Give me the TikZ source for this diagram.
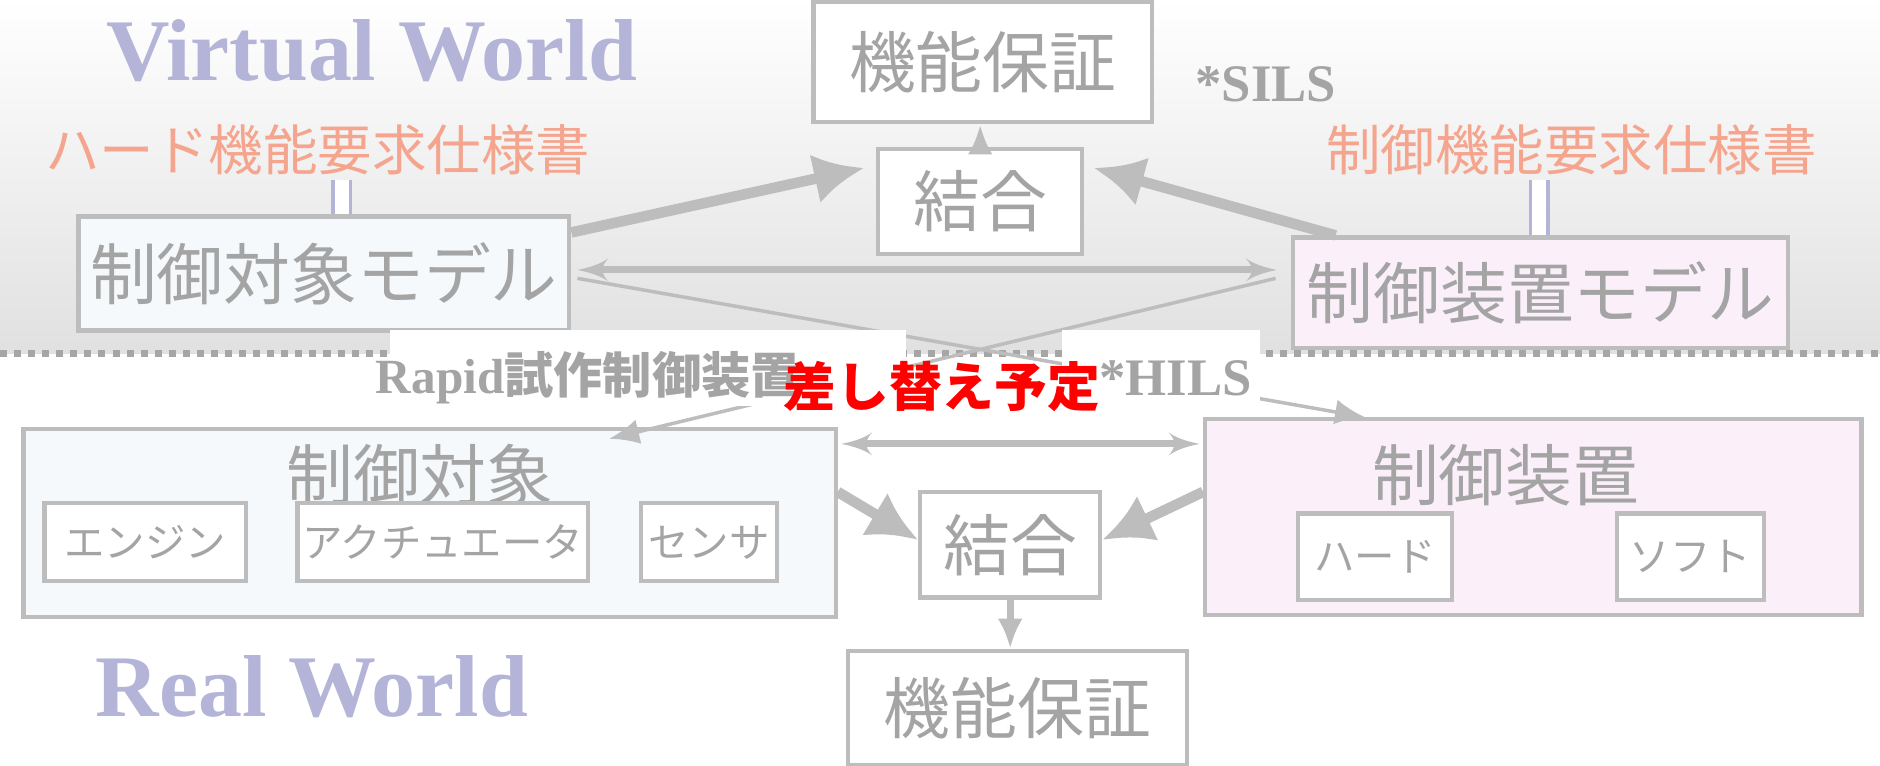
\documentclass[tikz,border=0pt]{standalone}
\usepackage{fontspec}
\setmainfont{Liberation Serif}
\newfontfamily\jp{Noto Sans CJK JP}
\usetikzlibrary{arrows, positioning, arrows.meta}
\definecolor{txtgray}{HTML}{A4A4A4}
\definecolor{linegray}{HTML}{BDBDBD}
\definecolor{lavender}{HTML}{B4B4D8}
\definecolor{salmon}{HTML}{F5A58E}
\definecolor{bluefill}{HTML}{F5F9FB}
\definecolor{pinkfill}{HTML}{FBF0FA}
\tikzset{
	box/.style={rectangle, draw=linegray, line width=1.2pt, fill=white, text=txtgray, font=\jp\fontsize{19}{19}\selectfont, inner sep=0pt},
	subbox/.style={box, font=\jp\fontsize{11.5}{11.5}\selectfont},
	thick arrow/.style={draw=linegray, line width=3pt, -{Latex[length=5mm,width=5mm]}},
	thin arrow/.style={draw=linegray, line width=1pt, -{Latex[length=3mm,width=2.5mm]}}
}
\begin{document}
\begin{tikzpicture}[x=0.012cm, y=-0.012cm, >=latex']
		\useasboundingbox (0,0) rectangle (1567,638);
		\shade[top color=white, bottom color=black!12] (0,0) rectangle (1567,295);
		\draw[black!35, line width=2pt, dotted] (0,295) -- (1567,295);
	
		% virtual world
		\node[font=\bfseries\fontsize{25}{25}\selectfont, text=lavender] (virtual) at (310,42) {Virtual World};
		\node[box, minimum width=282*0.012cm, minimum height=100*0.012cm] (checkV) at (819,52) {機能保証};
		\node[text=txtgray, font=\bfseries\fontsize{15}{15}\selectfont] (sils) at (1055,70) {*SILS};
		\node[text=salmon, font=\jp\fontsize{15.5}{15.5}\selectfont] (hardspec) at (265,125) {ハード機能要求仕様書};
		\node[text=salmon, font=\jp\fontsize{15.5}{15.5}\selectfont] (ctrlspec) at (1310,125) {制御機能要求仕様書};
		\node[box, minimum width=170*0.012cm, minimum height=87*0.012cm] (joinV) at (817,168) {結合};
		\node[box, fill=bluefill, minimum width=409*0.012cm, minimum height=95*0.012cm] (plantM) at (270,228) {制御対象モデル};
		\node[box, fill=pinkfill, minimum width=412*0.012cm, minimum height=92*0.012cm] (ctrlM) at (1284,244) {制御装置モデル};
	
		\draw[lavender, line width=1pt, double distance=4pt] (285,150) -- (plantM.north -| 285,0);
		\draw[lavender, line width=1pt, double distance=4pt] (1283,150) -- (ctrlM.north -| 1283,0);
	
		\draw[thick arrow] ([yshift=-15*0.012cm]plantM.north east) -- ([xshift=-10*0.012cm, yshift=28*0.012cm]joinV.west);
		\draw[thick arrow] ([xshift=37*0.012cm]ctrlM.north west) -- ([xshift=8*0.012cm, yshift=28*0.012cm]joinV.east);
		\draw[thin arrow, line width=2pt] (joinV.north) -- (joinV.north |- checkV.south);
		\draw[thin arrow, line width=2pt, <->] ([xshift=5*0.012cm, yshift=3*0.012cm]plantM.east) -- ([xshift=-12*0.012cm, yshift=19*0.012cm]ctrlM.west);
	
		% real world
		\node[box, fill=bluefill, minimum width=677*0.012cm, minimum height=157*0.012cm] (plant) at (358,436) {};
		\node[text=txtgray, font=\jp\fontsize{19}{19}\selectfont] (plantT) at (350,396) {制御対象};
		\node[subbox, minimum width=168*0.012cm, minimum height=65*0.012cm] (engine) at (121,452) {エンジン};
		\node[subbox, minimum width=242*0.012cm, minimum height=65*0.012cm] (actuator) at (369,452) {アクチュエータ};
		\node[subbox, minimum width=113*0.012cm, minimum height=65*0.012cm] (sensor) at (591,452) {センサ};
		\node[box, fill=pinkfill, minimum width=547*0.012cm, minimum height=163*0.012cm] (ctrl) at (1278,431) {};
		\node[text=txtgray, font=\jp\fontsize{19}{19}\selectfont] (ctrlT) at (1255,396) {制御装置};
		\node[subbox, minimum width=128*0.012cm, minimum height=72*0.012cm] (hard) at (1146,464) {ハード};
		\node[subbox, minimum width=122*0.012cm, minimum height=72*0.012cm] (soft) at (1409,464) {ソフト};
		\node[box, minimum width=150*0.012cm, minimum height=88*0.012cm] (joinR) at (842,454) {結合};
		\node[box, minimum width=283*0.012cm, minimum height=95*0.012cm] (checkR) at (848,590) {機能保証};
		\node[font=\bfseries\fontsize{25}{25}\selectfont, text=lavender] (real) at (260,572) {Real World};
	
		\draw[thin arrow, line width=2pt, <->] ([xshift=3*0.012cm, yshift=66*0.012cm]plant.east) -- ([xshift=-3*0.012cm, yshift=61*0.012cm]ctrl.west);
		\draw[thick arrow] ([yshift=26*0.012cm]plant.east) -- ([yshift=4*0.012cm]joinR.west);
		\draw[thick arrow] ([yshift=21*0.012cm]ctrl.west) -- ([yshift=4*0.012cm]joinR.east);
		\draw[thin arrow, line width=2pt] (joinR.south) -- (joinR.south |- checkR.north);
	
		% HILS / rapid prototyping
		\draw[thin arrow] ([xshift=5*0.012cm, yshift=-4*0.012cm]plantM.east) -- ([xshift=135*0.012cm]ctrl.north west);
		\draw[thin arrow] ([xshift=-13*0.012cm, yshift=12*0.012cm]ctrlM.west) -- ([xshift=490*0.012cm, yshift=-10*0.012cm]plant.north west);
		\fill[white] (325,275) rectangle (755,338);
		\fill[white] (885,275) rectangle (1050,338);
		\node[text=txtgray, font=\bfseries\fontsize{14}{14}\selectfont] (rapid) at (490,315) {Rapid{\jp 試作制御装置}};
		\node[text=txtgray, font=\bfseries\fontsize{15}{15}\selectfont] (hils) at (980,315) {*HILS};
		\node[text=red, font=\jp\bfseries\fontsize{15}{15}\selectfont] (replace) at (785,322) {差し替え予定};
	\end{tikzpicture}
\end{document}
